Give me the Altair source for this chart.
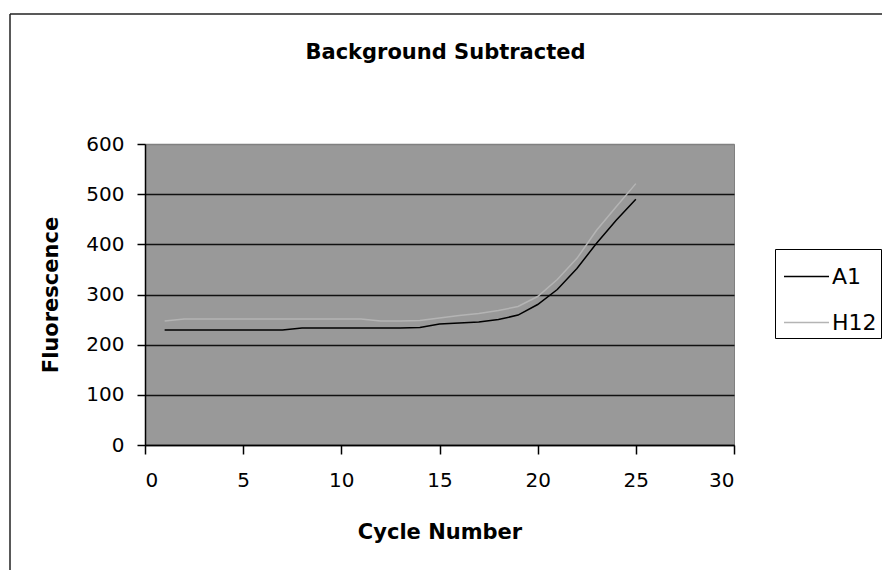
import altair as alt
import pandas as pd

cycles = list(range(1, 26))
a1_values = [229, 229, 229, 229, 229, 229, 229, 233, 233, 233, 233, 233, 233,
             234, 241, 243, 245, 250, 259, 280, 310, 352, 402, 448, 490]
h12_values = [247, 251, 251, 251, 251, 251, 251, 251, 251, 251, 251, 247, 247,
              248, 253, 258, 262, 268, 276, 296, 330, 372, 428, 475, 521]
series_names = ["A1", "H12"]
series_colors = ["#000000", "#b4b4b4"]
x_ticks = [0, 5, 10, 15, 20, 25, 30]
y_ticks = [0, 100, 200, 300, 400, 500, 600]

rows = []
for name, vals in zip(series_names, [a1_values, h12_values]):
    for c, v in zip(cycles, vals):
        rows.append({"Well": name, "Cycle": c, "Fluorescence": v})
df = pd.DataFrame(rows)

W, H = 589, 301
PAD_R = 148

lines = alt.Chart(df).mark_line(strokeWidth=1.5).encode(
    x=alt.X("Cycle:Q",
            scale=alt.Scale(domain=[0, 30], nice=False, zero=False),
            axis=alt.Axis(values=x_ticks, title="Cycle Number", grid=False,
                          tickSize=9, labelPadding=16, titleY=93,
                          titleBaseline="alphabetic")),
    y=alt.Y("Fluorescence:Q",
            scale=alt.Scale(domain=[0, 600], nice=False),
            axis=alt.Axis(values=y_ticks, title="Fluorescence", grid=True,
                          gridColor=alt.condition("datum.value == 600",
                                                  alt.value("#808080"),
                                                  alt.value("#111111")),
                          tickSize=8, labelPadding=13, titleX=-88,
                          titleBaseline="alphabetic")),
    color=alt.Color("Well:N",
                    scale=alt.Scale(domain=series_names, range=series_colors),
                    legend=alt.Legend(title=None, orient="none",
                                      legendX=630, legendY=105)),
)

border_df = pd.DataFrame({"k": [0]})
border_v = alt.Chart(border_df).mark_rule(color="#222222", strokeWidth=1.5).encode(
    x=alt.value(-135), y=alt.value(-130), y2=alt.value(H + 125))
border_h = alt.Chart(border_df).mark_rule(color="#222222", strokeWidth=1.5).encode(
    x=alt.value(-135), x2=alt.value(W + PAD_R), y=alt.value(-130))

chart = alt.layer(lines, border_v, border_h).properties(
    width=W, height=H,
    background="#ffffff",
    title=alt.TitleParams("Background Subtracted", font="DejaVu Sans",
                          fontSize=21, fontWeight="bold", anchor="middle",
                          frame="group", baseline="alphabetic", offset=-67,
                          dx=6, color="#000000"),
    autosize=alt.AutoSizeParams(type="none"),
    padding={"left": 137, "top": 136, "right": PAD_R, "bottom": 125},
).configure_view(
    fill="#999999", stroke="#808080", strokeWidth=1
).configure_axis(
    labelFont="DejaVu Sans", labelFontSize=20, labelColor="#000000",
    titleFont="DejaVu Sans", titleFontSize=21, titleFontWeight="bold",
    titleColor="#000000", domainColor="#000000", tickColor="#000000",
    gridWidth=1.5, domainWidth=1.5, tickWidth=1.5,
).configure_legend(
    strokeColor="#000000", fillColor="#ffffff", padding=4,
    symbolType="stroke", symbolSize=2025, symbolStrokeWidth=1.5,
    labelFont="DejaVu Sans", labelFontSize=22, labelColor="#000000",
    labelOffset=2, symbolOffset=4, rowPadding=11,
)

chart.save("out.html", embed_options={"renderer": "svg", "actions": False})
